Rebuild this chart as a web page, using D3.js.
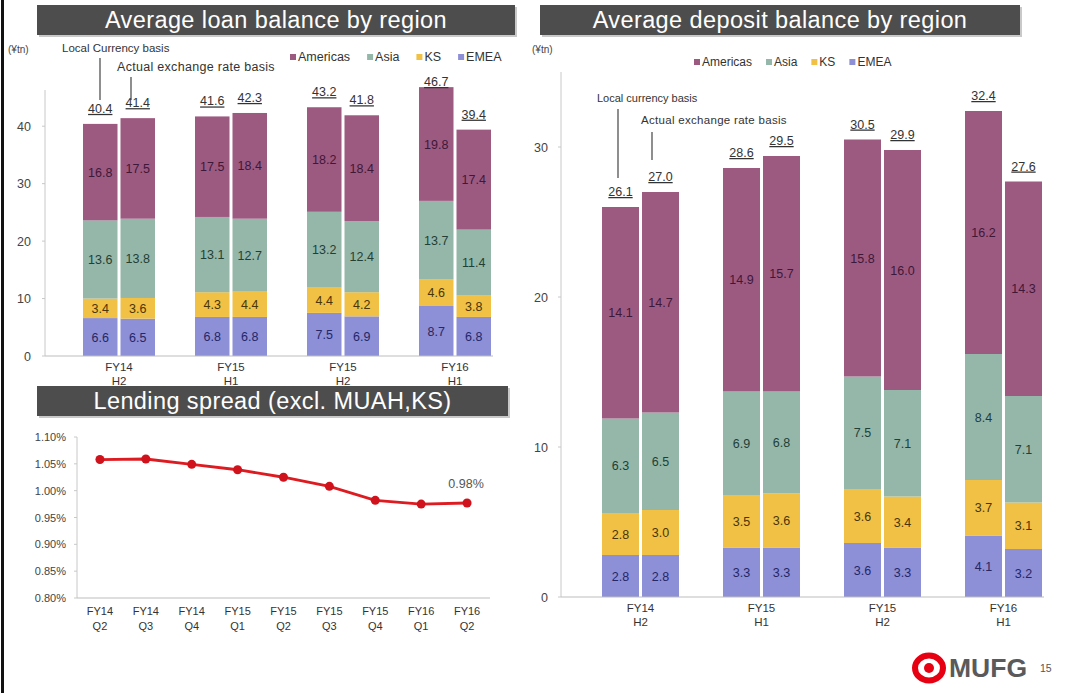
<!DOCTYPE html>
<html>
<head>
<meta charset="utf-8">
<script src="https://cdn.jsdelivr.net/npm/d3@7/dist/d3.min.js"></script>
<style>
  html, body { margin: 0; padding: 0; background: #fff; }
  svg { display: block; font-family: "Liberation Sans", Arial, sans-serif; }
</style>
</head>
<body>
<svg id="slide" width="1070" height="693"></svg>
<script>
// ---- Data ----
const periodYears  = ["FY14", "FY15", "FY15", "FY16"];
const periodHalves = ["H2", "H1", "H2", "H1"];
const regionOrder  = ["EMEA", "KS", "Asia", "Americas"];     // stacking, bottom-up
const legendOrder  = ["Americas", "Asia", "KS", "EMEA"];

// each array: [period1 local, period1 actual, period2 local, ...]
const loanEMEA     = [6.6, 6.5, 6.8, 6.8, 7.5, 6.9, 8.7, 6.8];
const loanKS       = [3.4, 3.6, 4.3, 4.4, 4.4, 4.2, 4.6, 3.8];
const loanAsia     = [13.6, 13.8, 13.1, 12.7, 13.2, 12.4, 13.7, 11.4];
const loanAmericas = [16.8, 17.5, 17.5, 18.4, 18.2, 18.4, 19.8, 17.4];
const loanTotals   = [40.4, 41.4, 41.6, 42.3, 43.2, 41.8, 46.7, 39.4];
const loanTicks    = [0, 10, 20, 30, 40];

const depEMEA      = [2.8, 2.8, 3.3, 3.3, 3.6, 3.3, 4.1, 3.2];
const depKS        = [2.8, 3.0, 3.5, 3.6, 3.6, 3.4, 3.7, 3.1];
const depAsia      = [6.3, 6.5, 6.9, 6.8, 7.5, 7.1, 8.4, 7.1];
const depAmericas  = [14.1, 14.7, 14.9, 15.7, 15.8, 16.0, 16.2, 14.3];
const depTotals    = [26.1, 27.0, 28.6, 29.5, 30.5, 29.9, 32.4, 27.6];
const depTicks     = [0, 10, 20, 30];

const spreadYears    = ["FY14", "FY14", "FY14", "FY15", "FY15", "FY15", "FY15", "FY16", "FY16"];
const spreadQuarters = ["Q2", "Q3", "Q4", "Q1", "Q2", "Q3", "Q4", "Q1", "Q2"];
const spreadValues   = [1.058, 1.059, 1.049, 1.039, 1.025, 1.008, 0.982, 0.975, 0.977];
const spreadTicks    = [0.80, 0.85, 0.90, 0.95, 1.00, 1.05, 1.10];

const colors = { Americas: "#9d5a81", Asia: "#95b7aa", KS: "#f0c144", EMEA: "#8d8fd7" };
const textColors = { Americas: "#3d1838", Asia: "#223f36", KS: "#4a3508", EMEA: "#252766" };

const svg = d3.select("#slide");

// left page border
svg.append("rect").attr("x", 1).attr("y", 0).attr("width", 3).attr("height", 693).attr("fill", "#111");

// ---- Section headers ----
function header(x0, x1, y0, y1, text) {
  svg.append("rect").attr("x", x0 + 2).attr("y", y0 + 2).attr("width", x1 - x0).attr("height", y1 - y0)
    .attr("fill", "#c9c9c9");
  svg.append("rect").attr("x", x0).attr("y", y0).attr("width", x1 - x0).attr("height", y1 - y0)
    .attr("fill", "#4d4d4d");
  svg.append("text").attr("x", (x0 + x1) / 2).attr("y", (y0 + y1) / 2 + 8)
    .attr("text-anchor", "middle").attr("fill", "#fff").attr("font-size", 23.5)
    .attr("letter-spacing", 0.4).text(text);
}
header(37, 515, 5, 35, "Average loan balance by region");
header(540, 1020, 5, 35, "Average deposit balance by region");
header(37, 508, 386, 416, "Lending spread (excl. MUAH,KS)");

// ---- Stacked bar charts ----
function stackedChart(cfg) {
  const g = svg.append("g");
  const rows = cfg.series.EMEA.map((_, i) => {
    const r = { idx: i };
    regionOrder.forEach(k => r[k] = cfg.series[k][i]);
    return r;
  });
  const stack = d3.stack().keys(regionOrder)(rows);

  const y = d3.scaleLinear().domain(cfg.yDomain).range([cfg.y0, cfg.yTop]);
  const xPeriod = d3.scaleBand().domain(d3.range(4)).range(cfg.xRange).paddingInner(0).paddingOuter(0);
  const barW = cfg.barW, gap = cfg.gap;
  const barX = i => {
    const p = Math.floor(i / 2), b = i % 2;
    const c = xPeriod(p) + xPeriod.bandwidth() / 2;
    return b === 0 ? c - gap / 2 - barW : c + gap / 2;
  };

  // y axis
  g.append("line").attr("x1", cfg.axisX).attr("x2", cfg.axisX)
    .attr("y1", cfg.y0).attr("y2", cfg.yTop).attr("stroke", "#c8c8c8").attr("stroke-width", 1);
  cfg.ticks.forEach(t => {
    g.append("line").attr("x1", cfg.axisX - 3).attr("x2", cfg.axisX)
      .attr("y1", y(t)).attr("y2", y(t)).attr("stroke", "#c8c8c8");
    g.append("text").attr("x", cfg.axisX - cfg.tickLabelGap).attr("y", y(t) + 4.5)
      .attr("text-anchor", "end").attr("font-size", 12.5).attr("fill", "#444").text(t);
  });
  g.append("text").attr("x", cfg.unitX).attr("y", cfg.unitY).attr("font-size", 10).attr("fill", "#444").text("(¥tn)");

  // bars
  stack.forEach(layer => {
    const key = layer.key;
    layer.forEach((d, i) => {
      g.append("rect").attr("x", barX(i)).attr("width", barW)
        .attr("y", y(d[1])).attr("height", y(d[0]) - y(d[1]))
        .attr("fill", colors[key]);
      g.append("text").attr("x", barX(i) + barW / 2).attr("y", (y(d[0]) + y(d[1])) / 2 + 4.5)
        .attr("text-anchor", "middle").attr("font-size", 12.5).attr("fill", textColors[key])
        .text(d.data[key].toFixed(1));
    });
  });

  // baseline
  g.append("line").attr("x1", cfg.axisX).attr("x2", cfg.baseEnd)
    .attr("y1", cfg.y0).attr("y2", cfg.y0).attr("stroke", "#bdbdbd");

  // totals (underlined)
  const top = stack[stack.length - 1];
  cfg.totals.forEach((t, i) => {
    const ty = Math.max(y(top[i][1]) - 11, cfg.totalMinY != null ? cfg.totalMinY : -1e9);
    const cx = barX(i) + barW / 2;
    g.append("text").attr("x", cx).attr("y", ty).attr("text-anchor", "middle")
      .attr("font-size", 12.5).attr("fill", "#333").attr("text-decoration", "underline").text(t.toFixed(1));
  });

  // category labels
  d3.range(4).forEach(p => {
    const cx = xPeriod(p) + xPeriod.bandwidth() / 2;
    g.append("text").attr("x", cx).attr("y", cfg.y0 + 15).attr("text-anchor", "middle")
      .attr("font-size", 11.5).attr("fill", "#333").text(periodYears[p]);
    g.append("text").attr("x", cx).attr("y", cfg.y0 + 29).attr("text-anchor", "middle")
      .attr("font-size", 11.5).attr("fill", "#333").text(periodHalves[p]);
  });

  // legend
  let lx = cfg.legendX;
  legendOrder.forEach(k => {
    g.append("rect").attr("x", lx).attr("y", cfg.legendY - 7).attr("width", 6).attr("height", 6).attr("fill", colors[k]);
    const t = g.append("text").attr("x", lx + 8).attr("y", cfg.legendY).attr("font-size", cfg.legendFont)
      .attr("fill", "#333").text(k);
    lx += 8 + t.node().getComputedTextLength() + cfg.legendGap;
  });

  // basis annotations
  const a = cfg.annot;
  g.append("text").attr("x", a.localX).attr("y", a.localY).attr("font-size", a.font).attr("fill", "#333").text(a.localText);
  g.append("line").attr("x1", a.localLineX).attr("x2", a.localLineX).attr("y1", a.localLineY1).attr("y2", a.localLineY2)
    .attr("stroke", "#444").attr("stroke-width", 1.2);
  g.append("text").attr("x", a.actualX).attr("y", a.actualY).attr("font-size", a.actualFont)
    .attr("letter-spacing", 0.3).attr("fill", "#333").text("Actual exchange rate basis");
  g.append("line").attr("x1", a.actualLineX).attr("x2", a.actualLineX).attr("y1", a.actualLineY1).attr("y2", a.actualLineY2)
    .attr("stroke", "#444").attr("stroke-width", 1.2);
}

stackedChart({
  series: { EMEA: loanEMEA, KS: loanKS, Asia: loanAsia, Americas: loanAmericas },
  totals: loanTotals, ticks: loanTicks,
  yDomain: [0, 46.3], y0: 356, yTop: 90,
  xRange: [63, 511], barW: 34.5, gap: 3,
  axisX: 45, baseEnd: 493, tickLabelGap: 14,
  unitX: 8, unitY: 53, totalMinY: 86,
  legendX: 290, legendY: 61, legendGap: 17, legendFont: 12.5,
  annot: { localText: "Local Currency basis", font: 11.5, actualFont: 12.5,
           localX: 62, localY: 52, localLineX: 100, localLineY1: 58, localLineY2: 100,
           actualX: 117, actualY: 71, actualLineX: 131, actualLineY1: 77, actualLineY2: 100 }
});

stackedChart({
  series: { EMEA: depEMEA, KS: depKS, Asia: depAsia, Americas: depAmericas },
  totals: depTotals, ticks: depTicks,
  yDomain: [0, 35], y0: 597, yTop: 72,
  xRange: [580, 1064], barW: 37, gap: 3,
  axisX: 561, baseEnd: 1044, tickLabelGap: 13,
  unitX: 532, unitY: 53, totalMinY: null,
  legendX: 694, legendY: 66, legendGap: 14, legendFont: 12,
  annot: { localText: "Local currency basis", font: 11, actualFont: 11.5,
           localX: 597, localY: 102, localLineX: 618, localLineY1: 109, localLineY2: 178,
           actualX: 641, actualY: 124, actualLineX: 652, actualLineY1: 132, actualLineY2: 160 }
});

// ---- Lending spread line chart ----
(function () {
  const g = svg.append("g");
  const y = d3.scaleLinear().domain([0.80, 1.10]).range([598, 437]);
  const x = d3.scaleBand().domain(d3.range(spreadValues.length)).range([77, 490]);
  const cx = i => x(i) + x.bandwidth() / 2;

  g.append("line").attr("x1", 77).attr("x2", 77).attr("y1", 598).attr("y2", 437).attr("stroke", "#c8c8c8");
  spreadTicks.forEach(t => {
    g.append("line").attr("x1", 74).attr("x2", 77).attr("y1", y(t)).attr("y2", y(t)).attr("stroke", "#c8c8c8");
    g.append("text").attr("x", 66).attr("y", y(t) + 4).attr("text-anchor", "end")
      .attr("font-size", 11).attr("fill", "#444").text(t.toFixed(2) + "%");
  });
  g.append("line").attr("x1", 77).attr("x2", 490).attr("y1", 598).attr("y2", 598).attr("stroke", "#bdbdbd");

  spreadValues.forEach((_, i) => {
    g.append("text").attr("x", cx(i)).attr("y", 615).attr("text-anchor", "middle")
      .attr("font-size", 11).attr("fill", "#333").text(spreadYears[i]);
    g.append("text").attr("x", cx(i)).attr("y", 630).attr("text-anchor", "middle")
      .attr("font-size", 11).attr("fill", "#333").text(spreadQuarters[i]);
  });

  const line = d3.line().x((d, i) => cx(i)).y(d => y(d));
  g.append("path").datum(spreadValues).attr("d", line).attr("fill", "none")
    .attr("stroke", "#dd1c22").attr("stroke-width", 2.8);
  g.selectAll("circle.pt").data(spreadValues).join("circle")
    .attr("cx", (d, i) => cx(i)).attr("cy", d => y(d)).attr("r", 4.5).attr("fill", "#cf121b");

  const last = spreadValues.length - 1;
  g.append("text").attr("x", cx(last) - 1).attr("y", y(spreadValues[last]) - 15).attr("text-anchor", "middle")
    .attr("font-size", 12.5).attr("fill", "#555").text(d3.format(".2f")(spreadValues[last]) + "%");
})();

// ---- Footer mark and page number ----
const logo = svg.append("g").attr("transform", "translate(929,668)");
logo.append("ellipse").attr("rx", 14).attr("ry", 12.5).attr("fill", "none").attr("stroke", "#e60012").attr("stroke-width", 6);
logo.append("circle").attr("r", 5).attr("fill", "#e60012");
svg.append("text").attr("x", 949).attr("y", 677).attr("font-size", 26.5).attr("font-weight", "bold")
  .attr("fill", "#5a5a5a").text("MUFG");
svg.append("text").attr("x", 1040).attr("y", 672).attr("font-size", 10.5).attr("fill", "#555").text("15");
</script>
</body>
</html>
